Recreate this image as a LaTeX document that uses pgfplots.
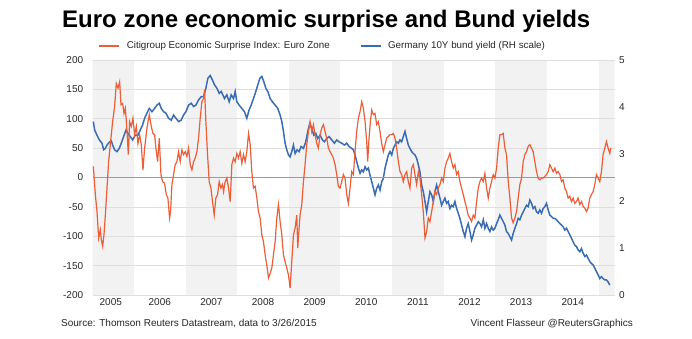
\documentclass[border=0pt]{standalone}
\usepackage{pgfplots}
\pgfplotsset{compat=1.18}
\usepackage{pgfplotstable}
\usepackage{fontspec}
\setmainfont{Liberation Sans}
\definecolor{orangec}{RGB}{234,94,56}
\definecolor{bluec}{RGB}{58,108,180}
\definecolor{bandc}{RGB}{242,242,242}
\definecolor{gridc}{RGB}{222,222,222}
\definecolor{zeroc}{RGB}{168,150,143}

\pgfplotstableread{
yr val
2005.212 19
2005.251 -29
2005.283 -58
2005.316 -103
2005.348 -89
2005.367 -106
2005.393 -117
2005.419 -97
2005.445 -64
2005.477 -18
2005.509 27
2005.541 56
2005.586 95
2005.625 121
2005.657 160
2005.690 152
2005.722 163
2005.748 124
2005.780 126
2005.806 109
2005.832 118
2005.857 90
2005.890 39
2005.915 95
2005.948 87
2005.980 101
2006.012 73
2006.045 87
2006.077 58
2006.109 73
2006.141 56
2006.174 13
2006.206 50
2006.251 84
2006.296 107
2006.335 87
2006.367 75
2006.399 73
2006.425 50
2006.457 27
2006.490 67
2006.522 5
2006.554 -7
2006.593 -10
2006.625 -29
2006.657 -35
2006.690 -69
2006.709 -58
2006.735 -12
2006.767 5
2006.799 22
2006.831 27
2006.864 44
2006.896 27
2006.928 47
2006.960 39
2006.993 44
2007.025 36
2007.057 50
2007.090 22
2007.122 13
2007.154 27
2007.186 33
2007.219 44
2007.251 67
2007.283 101
2007.315 129
2007.348 135
2007.367 149
2007.393 95
2007.425 39
2007.457 -7
2007.490 -18
2007.522 -41
2007.554 -64
2007.586 -35
2007.619 -29
2007.651 -7
2007.683 -18
2007.715 -12
2007.735 -24
2007.767 -7
2007.799 -1
2007.832 -18
2007.864 -41
2007.896 22
2007.928 33
2007.961 27
2007.993 41
2008.025 33
2008.057 44
2008.090 24
2008.122 39
2008.154 27
2008.186 44
2008.219 75
2008.251 56
2008.283 10
2008.315 -18
2008.348 -15
2008.380 -35
2008.412 -58
2008.444 -69
2008.477 -98
2008.509 -109
2008.541 -132
2008.573 -149
2008.606 -171
2008.638 -163
2008.670 -154
2008.702 -132
2008.735 -109
2008.767 -69
2008.799 -46
2008.831 -75
2008.864 -98
2008.896 -132
2008.928 -143
2008.960 -154
2008.993 -166
2009.025 -188
2009.057 -143
2009.089 -98
2009.122 -86
2009.154 -64
2009.173 -120
2009.199 -86
2009.218 -64
2009.251 -46
2009.283 -7
2009.315 22
2009.347 56
2009.380 78
2009.412 95
2009.444 78
2009.476 90
2009.509 73
2009.541 58
2009.573 50
2009.605 73
2009.638 84
2009.670 90
2009.702 78
2009.734 67
2009.767 50
2009.799 44
2009.831 39
2009.863 33
2009.896 22
2009.928 5
2009.960 -15
2009.993 -18
2010.025 -7
2010.057 5
2010.089 -1
2010.122 -29
2010.154 -44
2010.186 -18
2010.218 10
2010.251 5
2010.283 44
2010.315 78
2010.348 101
2010.380 112
2010.412 129
2010.444 118
2010.477 95
2010.509 61
2010.528 27
2010.554 67
2010.580 95
2010.606 115
2010.638 107
2010.670 109
2010.702 90
2010.735 95
2010.767 78
2010.799 58
2010.831 44
2010.864 56
2010.896 67
2010.928 70
2010.960 73
2010.993 73
2011.025 75
2011.057 67
2011.089 50
2011.122 27
2011.154 10
2011.186 5
2011.218 -7
2011.251 5
2011.283 10
2011.315 -7
2011.347 -18
2011.380 16
2011.412 22
2011.444 5
2011.476 -12
2011.509 10
2011.541 -1
2011.573 -29
2011.605 -58
2011.638 -103
2011.670 -92
2011.702 -69
2011.734 -75
2011.767 -58
2011.799 -41
2011.831 -24
2011.863 -29
2011.896 -18
2011.928 -12
2011.960 -1
2011.992 -7
2012.025 16
2012.057 27
2012.089 33
2012.121 41
2012.154 27
2012.186 16
2012.218 22
2012.251 5
2012.283 10
2012.315 -7
2012.347 -18
2012.380 -29
2012.412 -41
2012.444 -52
2012.476 -64
2012.509 -69
2012.541 -75
2012.573 -64
2012.605 -69
2012.638 -41
2012.670 -18
2012.702 -7
2012.734 -1
2012.767 -7
2012.799 7
2012.831 -18
2012.864 -35
2012.896 -18
2012.928 -7
2012.960 5
2012.993 -1
2013.025 16
2013.057 50
2013.089 73
2013.122 73
2013.154 75
2013.186 50
2013.218 39
2013.251 -7
2013.283 -35
2013.315 -69
2013.347 -77
2013.380 -69
2013.412 -58
2013.444 -35
2013.476 -12
2013.509 -1
2013.541 27
2013.573 39
2013.605 44
2013.638 53
2013.670 56
2013.702 50
2013.734 44
2013.767 27
2013.799 10
2013.831 -1
2013.863 -4
2013.896 -1
2013.928 -1
2013.960 2
2013.992 5
2014.025 10
2014.057 22
2014.089 16
2014.122 10
2014.154 16
2014.186 7
2014.218 10
2014.251 5
2014.283 -7
2014.315 -4
2014.347 -18
2014.380 -24
2014.412 -35
2014.444 -32
2014.476 -41
2014.509 -35
2014.541 -44
2014.573 -41
2014.605 -35
2014.638 -46
2014.670 -41
2014.702 -49
2014.734 -52
2014.767 -58
2014.799 -52
2014.831 -35
2014.863 -29
2014.896 -24
2014.928 -12
2014.960 5
2014.992 -1
2015.025 -7
2015.057 10
2015.089 39
2015.122 50
2015.154 61
2015.186 50
2015.218 41
2015.237 50
}\cesi

\pgfplotstableread{
yr val
2005.212 3.69
2005.238 3.51
2005.283 3.40
2005.328 3.30
2005.380 3.23
2005.412 3.09
2005.445 3.12
2005.477 3.19
2005.522 3.25
2005.561 3.28
2005.586 3.19
2005.625 3.09
2005.670 3.05
2005.715 3.12
2005.754 3.23
2005.799 3.37
2005.845 3.51
2005.883 3.44
2005.928 3.37
2005.974 3.30
2006.025 3.40
2006.077 3.40
2006.122 3.51
2006.167 3.62
2006.206 3.76
2006.251 3.87
2006.296 3.97
2006.348 3.90
2006.399 3.97
2006.444 4.04
2006.490 4.08
2006.528 3.97
2006.573 3.90
2006.619 3.87
2006.670 3.76
2006.722 3.72
2006.767 3.83
2006.812 3.76
2006.864 3.69
2006.915 3.72
2006.960 3.83
2007.006 3.90
2007.057 4.04
2007.109 4.08
2007.154 4.01
2007.199 4.04
2007.251 4.15
2007.302 4.22
2007.348 4.22
2007.393 4.40
2007.431 4.61
2007.477 4.67
2007.522 4.57
2007.561 4.47
2007.606 4.40
2007.651 4.29
2007.690 4.33
2007.754 4.18
2007.799 4.26
2007.844 4.11
2007.883 4.26
2007.928 4.18
2007.961 4.33
2007.993 4.11
2008.038 4.04
2008.090 3.97
2008.141 3.90
2008.186 3.76
2008.231 3.94
2008.270 4.04
2008.315 4.18
2008.360 4.33
2008.399 4.47
2008.438 4.61
2008.477 4.65
2008.515 4.54
2008.554 4.40
2008.593 4.33
2008.638 4.18
2008.683 4.11
2008.735 4.04
2008.786 3.97
2008.831 3.83
2008.864 3.69
2008.896 3.48
2008.928 3.23
2008.960 3.09
2008.993 2.98
2009.025 2.94
2009.057 3.05
2009.089 3.19
2009.122 3.01
2009.160 3.09
2009.199 3.05
2009.238 3.16
2009.283 3.12
2009.328 3.26
2009.367 3.48
2009.406 3.65
2009.444 3.55
2009.483 3.40
2009.522 3.44
2009.560 3.33
2009.606 3.40
2009.651 3.30
2009.689 3.26
2009.734 3.33
2009.780 3.37
2009.831 3.30
2009.883 3.23
2009.928 3.30
2009.973 3.26
2010.025 3.23
2010.076 3.19
2010.122 3.23
2010.167 3.16
2010.218 3.12
2010.251 3.09
2010.283 2.98
2010.315 2.84
2010.348 2.70
2010.380 2.59
2010.412 2.66
2010.444 2.62
2010.477 2.73
2010.509 2.66
2010.541 2.70
2010.573 2.55
2010.606 2.41
2010.638 2.27
2010.670 2.13
2010.702 2.27
2010.735 2.34
2010.767 2.23
2010.799 2.41
2010.831 2.48
2010.864 2.70
2010.896 2.84
2010.928 2.98
2010.960 3.05
2010.993 2.98
2011.025 3.12
2011.057 3.19
2011.089 3.26
2011.122 3.23
2011.154 3.30
2011.186 3.26
2011.218 3.37
2011.251 3.48
2011.283 3.33
2011.315 3.19
2011.347 3.12
2011.380 3.05
2011.412 3.01
2011.444 2.98
2011.476 2.91
2011.509 2.77
2011.541 2.62
2011.573 2.34
2011.605 2.20
2011.638 1.99
2011.670 1.77
2011.702 1.99
2011.734 2.20
2011.767 2.13
2011.799 1.99
2011.831 2.20
2011.863 2.34
2011.896 2.20
2011.928 2.06
2011.960 1.91
2011.992 1.99
2012.025 2.06
2012.057 1.95
2012.089 1.99
2012.121 1.84
2012.154 1.91
2012.186 1.88
2012.218 1.99
2012.251 1.84
2012.283 1.74
2012.315 1.63
2012.347 1.49
2012.380 1.35
2012.412 1.24
2012.444 1.42
2012.476 1.52
2012.509 1.35
2012.541 1.17
2012.573 1.28
2012.605 1.42
2012.638 1.49
2012.670 1.56
2012.702 1.52
2012.734 1.45
2012.767 1.60
2012.799 1.42
2012.831 1.52
2012.864 1.42
2012.896 1.35
2012.928 1.45
2012.960 1.38
2012.993 1.42
2013.025 1.52
2013.057 1.60
2013.089 1.70
2013.122 1.63
2013.154 1.56
2013.186 1.49
2013.218 1.35
2013.251 1.31
2013.283 1.24
2013.315 1.17
2013.347 1.31
2013.380 1.42
2013.412 1.52
2013.444 1.63
2013.476 1.60
2013.509 1.70
2013.541 1.77
2013.573 1.84
2013.605 1.91
2013.638 1.88
2013.670 2.02
2013.702 1.95
2013.734 1.84
2013.767 1.88
2013.799 1.77
2013.831 1.74
2013.863 1.81
2013.896 1.74
2013.928 1.84
2013.960 1.88
2013.992 1.95
2014.025 1.81
2014.057 1.70
2014.089 1.67
2014.122 1.63
2014.154 1.63
2014.186 1.60
2014.218 1.56
2014.251 1.52
2014.283 1.49
2014.315 1.45
2014.347 1.38
2014.380 1.42
2014.412 1.35
2014.444 1.28
2014.476 1.21
2014.509 1.13
2014.541 1.06
2014.573 1.03
2014.605 0.96
2014.638 0.92
2014.670 0.99
2014.702 0.89
2014.734 0.82
2014.767 0.85
2014.799 0.78
2014.831 0.71
2014.863 0.67
2014.896 0.64
2014.928 0.57
2014.960 0.50
2014.992 0.43
2015.025 0.35
2015.057 0.39
2015.089 0.35
2015.122 0.32
2015.154 0.32
2015.186 0.28
2015.218 0.21
}\bund

\pgfplotsset{
  base/.style={
    at={(92.7pt,43pt)}, anchor=south west, scale only axis,
    width=521.8pt, height=235pt,
    xmin=2005.2, xmax=2015.31,
    axis line style={draw=none},
    major tick length=0pt, minor tick length=0pt,
    /pgf/number format/assume math mode=true,
    ticklabel style={font=\fontsize{10}{12}\selectfont, text=black!85},
  }
}

\begin{document}
\begin{tikzpicture}[x=1pt,y=1pt]
\useasboundingbox (0,0) rectangle (692,338);

% background year bands
\begin{axis}[base, ymin=0, ymax=1, xtick=\empty, ytick=\empty]
  \fill[bandc] (axis cs:2005,0) rectangle (axis cs:2006,1);
  \fill[bandc] (axis cs:2007,0) rectangle (axis cs:2008,1);
  \fill[bandc] (axis cs:2009,0) rectangle (axis cs:2010,1);
  \fill[bandc] (axis cs:2011,0) rectangle (axis cs:2012,1);
  \fill[bandc] (axis cs:2013,0) rectangle (axis cs:2014,1);
  \fill[bandc] (axis cs:2015,0) rectangle (axis cs:2016,1);
\end{axis}

% right axis: Bund yield
\begin{axis}[base, ymin=0, ymax=5, xtick=\empty,
  ytick={0,1,2,3,4,5}, yticklabel pos=right,
  yticklabel style={xshift=1pt},
  minor ytick={0,0.625,1.25,1.875,3.125,3.75,4.375,5},
  yminorgrids=true, minor grid style={gridc, line width=0.7pt},
  legend columns=2,
  legend style={draw=none, fill=none, at={(0.0107,1.0596)}, anchor=west,
    inner xsep=0pt, inner ysep=0pt,
    font=\fontsize{9.8}{11}\selectfont, text=black!85,
    nodes={inner sep=0pt},
    /tikz/every odd column/.style={column sep=6.7pt},
    /tikz/every even column/.style={column sep=30pt}},
  legend image code/.code={\draw[#1] (0pt,0pt) -- (20pt,0pt);},
]
  \addplot[bluec, line width=1.5pt, forget plot] table[x=yr, y=val] {\bund};
  \addlegendimage{orangec, line width=1.6pt}
  \addlegendentry{Citigroup Economic Surprise Index: Euro Zone}
  \addlegendimage{bluec, line width=1.6pt}
  \addlegendentry{Germany 10Y bund yield (RH scale)}
\end{axis}

% left axis: CESI
\begin{axis}[base, ymin=-200, ymax=200,
  ytick={-200,-150,-100,-50,0,50,100,150,200},
  yticklabel style={xshift=-6pt},
  xtick={2005.55,2006.5,2007.5,2008.5,2009.5,2010.5,2011.5,2012.5,2013.5,2014.5},
  xticklabels={2005,2006,2007,2008,2009,2010,2011,2012,2013,2014},
  extra y ticks={0}, extra y tick labels={},
  extra y tick style={ymajorgrids=true, major grid style={zeroc, line width=0.8pt}},
]
  \addplot[orangec, line width=1.2pt] table[x=yr, y=val] {\cesi};
\end{axis}

\node[anchor=base west, font=\fontsize{24}{28}\selectfont\bfseries, inner sep=0pt] at (62,310) {Euro zone economic surprise and Bund yields};
\node[anchor=base west, font=\fontsize{10}{12}\selectfont, text=black!85, inner sep=0pt] at (61,11.5) {Source: Thomson Reuters Datastream, data to 3/26/2015};
\node[anchor=base east, font=\fontsize{10}{12}\selectfont, text=black!85, inner sep=0pt] at (633,11.5) {Vincent Flasseur @ReutersGraphics};
\end{tikzpicture}
\end{document}
